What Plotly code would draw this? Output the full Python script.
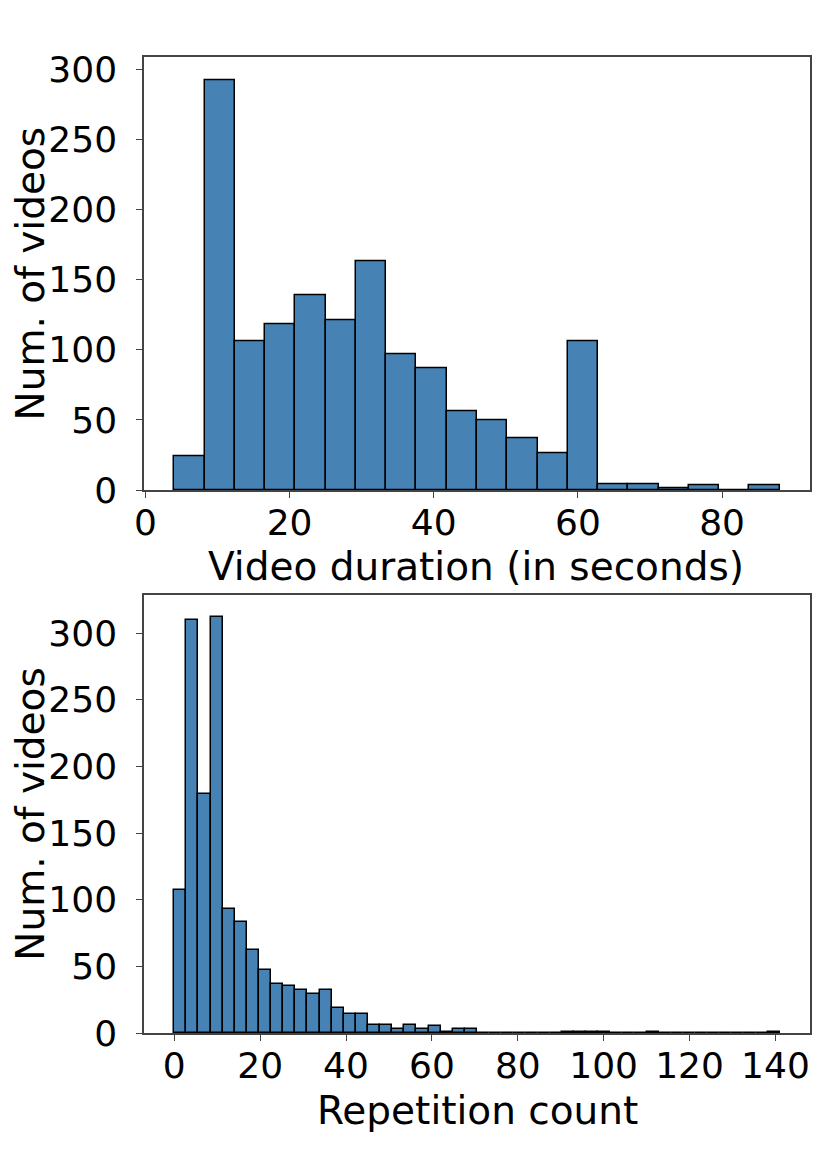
import numpy as np
import plotly.graph_objects as go

# ---- data ----
duration_start = 4.0
duration_stop = 88.0
duration_counts = [24, 292, 106, 118, 139, 121, 163, 97, 87, 56,
                   50, 37, 26, 106, 4, 4, 1, 3, 0, 3]

rep_start = 0.0
rep_stop = 141.0
rep_counts = [107, 310, 179, 312, 93, 83, 62, 47, 37, 35,
              32, 29, 32, 19, 14, 14, 6, 6, 3, 6,
              3, 5, 1, 3, 3, 0, 0, 0, 0, 0,
              0, 0, 1, 1, 1, 1, 0, 0, 0, 1,
              0, 0, 0, 0, 0, 0, 0, 0, 0, 1]

y_ticks = [0, 50, 100, 150, 200, 250, 300]
dur_x_ticks = [0, 20, 40, 60, 80]
rep_x_ticks = [0, 20, 40, 60, 80, 100, 120, 140]

dur_xtitle = "Video duration (in seconds)"
rep_xtitle = "Repetition count"
ytitle = "Num. of videos"

# ---- build bins ----
def bins(start, stop, counts):
    edges = np.linspace(start, stop, len(counts) + 1)
    centers = (edges[:-1] + edges[1:]) / 2
    width = edges[1] - edges[0]
    return centers, width

dc, dw = bins(duration_start, duration_stop, duration_counts)
rc, rw = bins(rep_start, rep_stop, rep_counts)

FILL = "#4682B4"
FONT = "DejaVu Sans"
W, H = 831, 1175
OFF = 8  # page body margin offset

fig = go.Figure()
fig.add_trace(go.Bar(x=dc, y=duration_counts, width=dw, marker=dict(color=FILL, line=dict(color="black", width=1.5)),
                     xaxis="x", yaxis="y", showlegend=False))
fig.add_trace(go.Bar(x=rc, y=rep_counts, width=rw, marker=dict(color=FILL, line=dict(color="black", width=1.5)),
                     xaxis="x2", yaxis="y2", showlegend=False))

def pf_x(px):
    return (px - OFF) / W

def pf_y(py):
    return (H - (py - OFF)) / H

title_font = dict(family=FONT, size=39, color="black")

axis_common = dict(showline=True, linecolor="#444", linewidth=1.5, mirror=True,
                   showgrid=False, zeroline=False, ticks="outside", ticklen=6,
                   tickwidth=1.3, tickcolor="#444", automargin=False,
                   tickfont=dict(family=FONT, size=36, color="black"))

dur_x_max = duration_stop + 0.05 * (duration_stop - duration_start)
dur_x_min = duration_start - 0.05 * (duration_stop - duration_start)
rep_x_max = rep_stop + 0.05 * (rep_stop - rep_start)
rep_x_min = rep_start - 0.05 * (rep_stop - rep_start)

fig.update_layout(
    width=W, height=H, autosize=False,
    margin=dict(l=0, r=0, t=0, b=0, pad=0, autoexpand=False),
    paper_bgcolor="white", plot_bgcolor="white",
    bargap=0,
    xaxis=dict(domain=[pf_x(144), pf_x(810)], anchor="y", range=[dur_x_min, dur_x_max],
               tickvals=dur_x_ticks, ticklabelstandoff=-6, **axis_common),
    yaxis=dict(domain=[pf_y(490), pf_y(57.3)], anchor="x", range=[0, max(duration_counts) * 1.057],
               tickvals=y_ticks, ticklabelstandoff=12,
               title=dict(text=ytitle, font=title_font, standoff=12), **axis_common),
    xaxis2=dict(domain=[pf_x(144), pf_x(810)], anchor="y2", range=[rep_x_min, rep_x_max],
                tickvals=rep_x_ticks, ticklabelstandoff=-6, **axis_common),
    yaxis2=dict(domain=[pf_y(1033), pf_y(595)], anchor="x2", range=[0, 328.7],
                tickvals=y_ticks, ticklabelstandoff=12,
                title=dict(text=ytitle, font=title_font, standoff=12), **axis_common),
)

fig.add_annotation(text=dur_xtitle, x=pf_x(476), y=pf_y(566), xref="paper", yref="paper",
                   showarrow=False, font=title_font, xanchor="center", yanchor="middle")
fig.add_annotation(text=rep_xtitle, x=pf_x(477), y=pf_y(1110), xref="paper", yref="paper",
                   showarrow=False, font=title_font, xanchor="center", yanchor="middle")

fig.write_html("out.html")
